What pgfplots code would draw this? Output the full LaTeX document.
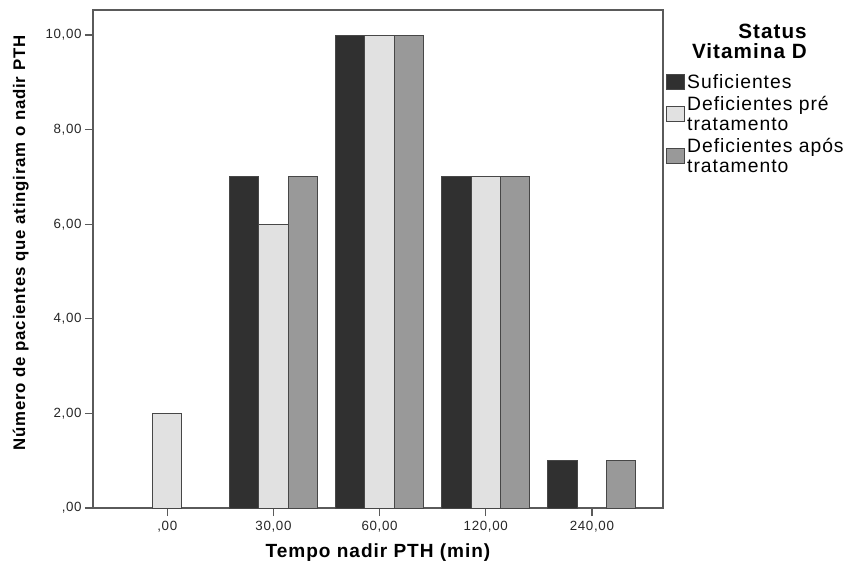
\documentclass[border=0pt]{standalone}
\usepackage{fontspec}
\setmainfont{Liberation Sans}[LetterSpace=5]
\usepackage{pgfplots}
\pgfplotsset{compat=1.18}
\definecolor{cdark}{HTML}{303030}
\definecolor{clight}{HTML}{E1E1E1}
\definecolor{cmid}{HTML}{999999}
\definecolor{cedge}{HTML}{474747}
\definecolor{caxis}{HTML}{5A5A5A}
\pgfplotsset{mybox legend/.style={legend image code/.code={\draw[##1,draw=cedge] (0pt,-5.6pt) rectangle (14pt,5.6pt);}}}
\begin{document}
\begin{tikzpicture}
\begin{axis}[
  name=ax,
  scale only axis, width=427.5pt, height=373.5pt,
  xmin=-0.70, xmax=4.67, ymin=0, ymax=10.53,
  clip=false,
  xtick={0,1,2,3,4}, xticklabels={{,00},{30,00},{60,00},{120,00},{240,00}},
  ytick={0,2,4,6,8,10}, yticklabels={{,00},{2,00},{4,00},{6,00},{8,00},{10,00}},
  tick align=outside, major tick length=6pt, tick pos=left,
  axis line style={caxis, line width=1pt},
  tick style={caxis, line width=1pt},
  ticklabel style={font=\fontsize{10}{11}\selectfont, text=black!85},
  xticklabel style={yshift=-0.5pt},
  yticklabel style={xshift=1pt},
  xlabel={Tempo nadir PTH (min)},
  every axis x label/.style={at={(rel axis cs:0.5,-0.0984)}, anchor=base, font=\bfseries\fontsize{14.3}{16}\selectfont},
  ylabel={Número de pacientes que atingiram o nadir PTH},
  every axis y label/.style={at={(rel axis cs:-0.119,0.532)}, anchor=base, rotate=90, font=\bfseries\fontsize{12.6}{14}\selectfont},
  legend style={at={(1.004,0.876)}, anchor=north west, draw=none, fill=none, inner sep=0pt,
    font=\fontsize{14.5}{15}\selectfont, cells={anchor=west, align=left}, row sep=1.5pt,
    nodes={inner sep=1.5pt}},
]
\addplot[ybar, bar width=0.2757, bar shift=-0.2757, fill=cdark, draw=cedge, line width=0.75pt, mybox legend]
  coordinates {(1,7) (2,10) (3,7) (4,1)};
\addlegendentry{Suficientes}
\addplot[ybar, bar width=0.2757, bar shift=0, fill=clight, draw=cedge, line width=0.75pt, mybox legend]
  coordinates {(0,2) (1,6) (2,10) (3,7)};
\addlegendentry{Deficientes pré\\tratamento}
\addplot[ybar, bar width=0.2757, bar shift=0.2757, fill=cmid, draw=cedge, line width=0.75pt, mybox legend]
  coordinates {(1,7) (2,10) (3,7) (4,1)};
\addlegendentry{Deficientes após\\tratamento}
\node[anchor=north east, align=right, inner sep=0pt, font=\bfseries\fontsize{15.5}{15}\selectfont]
  at (rel axis cs:1.2526,0.972) {Status\\Vitamina D};
\end{axis}
\pgfresetboundingbox
\path ([shift={(-69.75pt,-41.25pt)}]ax.south west) rectangle ([shift={(576.75pt,381pt)}]ax.south west);
\end{tikzpicture}
\end{document}
